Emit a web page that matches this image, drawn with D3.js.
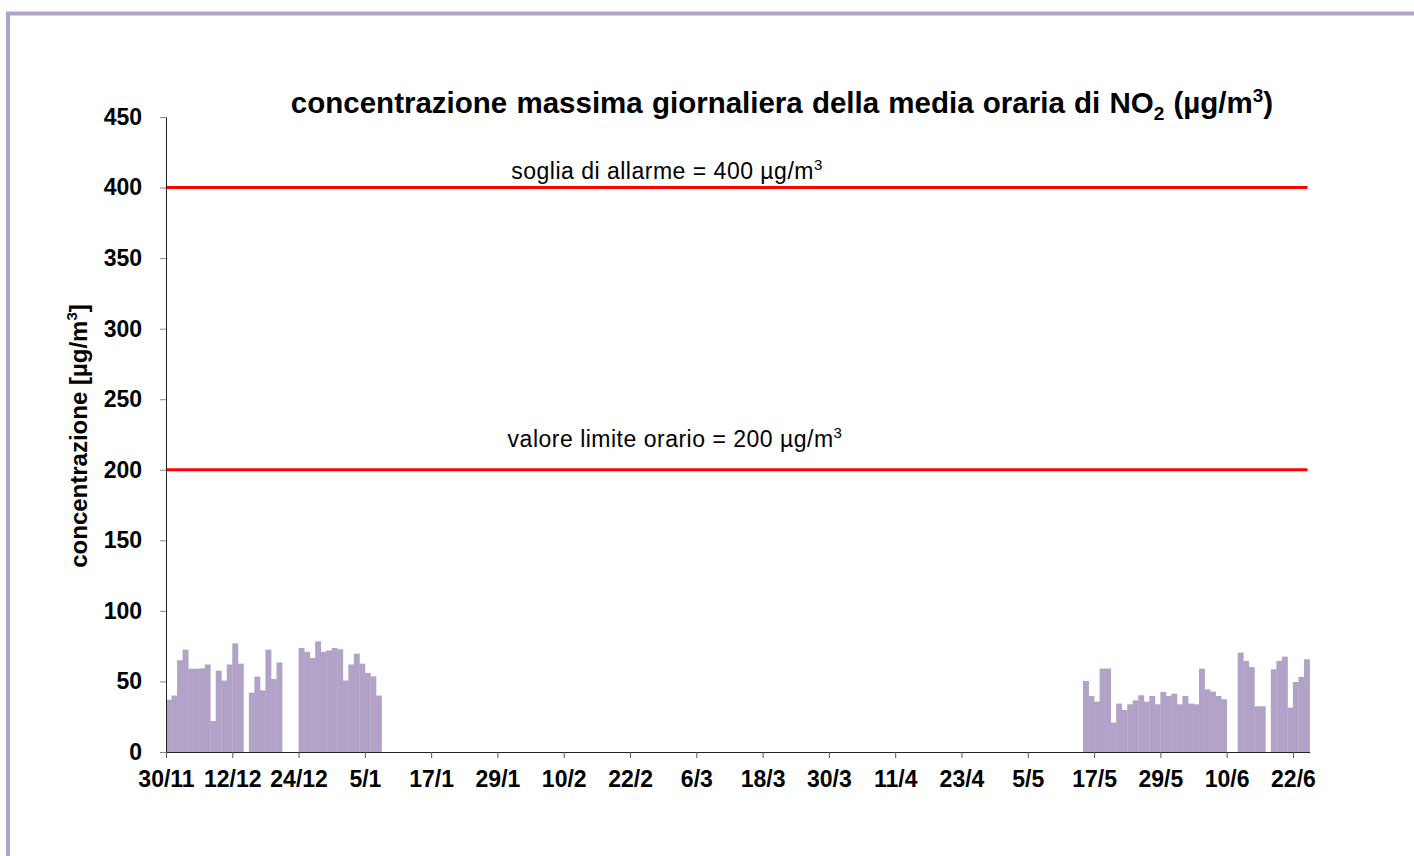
<!DOCTYPE html>
<html>
<head>
<meta charset="utf-8">
<script src="https://cdn.jsdelivr.net/npm/d3@7"></script>
<style>
  body { margin: 0; background: #fff; }
  svg { display: block; font-family: "Liberation Sans", Arial, sans-serif; }
</style>
</head>
<body>
<script>
// valori massimi giornalieri NO2, primo periodo (dal 30/11)
var winterStart = "2010-11-30";
var winterValues = [37, 40, 65, 72.5, 59, 59, 59.3, 62, 22, 57.6, 50.6, 62, 77, 62.6, null,
  42, 53.4, 43.7, 72.5, 51.7, 63.5, null, null, null, 73.7, 71, 66.6, 78.4, 71, 72, 73.7,
  72.8, 50.6, 62, 69.7, 62.6, 56, 53.6, 40];
// secondo periodo (dal 15/5)
var springStart = "2011-05-15";
var springValues = [50.3, 39.7, 35.7, 59.1, 59.1, 20.8, 34.3, 29.8, 33.8, 36.6, 40.2, 35.7,
  39.7, 33.8, 42.5, 39.7, 41.3, 33.8, 39.7, 34.3, 33.8, 59.1, 44.4, 42.8, 39.7, 37.3, null,
  null, 70.4, 64.5, 60.2, 32.4, 32.4, null, 58.6, 64.5, 67.6, 31.4, 49.6, 53.2, 65.7];

var yTicks = [0, 50, 100, 150, 200, 250, 300, 350, 400, 450];
var thresholds = [400, 200];
var thresholdLabels = ["soglia di allarme = 400 µg/m", "valore limite orario = 200 µg/m"];

var W = 1414, H = 856;
var parse = d3.utcParse("%Y-%m-%d");

// costruisco le righe giorno per giorno
function rows(start, values) {
  var d0 = parse(start);
  return values.map(function(v, i) { return { date: d3.utcDay.offset(d0, i), value: v }; })
    .filter(function(d) { return d.value != null; });
}
var data = rows(winterStart, winterValues).concat(rows(springStart, springValues));

var svg = d3.select("body").append("svg").attr("width", W).attr("height", H);

// cornice lilla
svg.append("path")
  .attr("d", "M8,856 L8,13.5 L1414,13.5")
  .attr("fill", "none").attr("stroke", "#b3a2c7").attr("stroke-width", 4);

var x = d3.scaleUtc()
  .domain([parse("2010-11-30"), parse("2011-06-25")])
  .range([166, 1309.5]);
var y = d3.scaleLinear().domain([0, 450]).range([752, 117]);

// barre
svg.append("g").selectAll("rect")
  .data(data)
  .enter().append("rect")
  .attr("x", function(d) { return x(d.date); })
  .attr("width", function(d) { return x(d3.utcDay.offset(d.date, 1)) - x(d.date) + 0.4; })
  .attr("y", function(d) { return y(d.value); })
  .attr("height", function(d) { return y(0) - y(d.value); })
  .attr("fill", "#b3a2c7");

// soglie
svg.append("g").selectAll("line")
  .data(thresholds)
  .enter().append("line")
  .attr("x1", x.range()[0]).attr("x2", x.range()[1] - 2)
  .attr("y1", function(d) { return y(d); }).attr("y2", function(d) { return y(d); })
  .attr("stroke", "#ff0000").attr("stroke-width", 3);

var labelPos = [{ cx: 667, dy: -9 }, { cx: 675, dy: -23 }];
thresholds.forEach(function(t, i) {
  var tx = svg.append("text")
    .attr("x", labelPos[i].cx).attr("y", y(t) + labelPos[i].dy)
    .attr("text-anchor", "middle").attr("font-size", 23).attr("letter-spacing", 0.5)
    .attr("fill", "#000");
  tx.append("tspan").text(thresholdLabels[i]);
  tx.append("tspan").attr("font-size", 15).attr("dy", -9).text("3");
});

// asse y
var yAxis = svg.append("g").attr("transform", "translate(166,0)")
  .call(d3.axisLeft(y).tickValues(yTicks).tickSize(6).tickPadding(18));
yAxis.select(".domain").attr("stroke", "#222");
yAxis.selectAll(".tick line").attr("stroke", "#888");
yAxis.selectAll("text").attr("font-size", 23).attr("font-weight", "bold").attr("fill", "#000")
  .attr("font-family", "Liberation Sans, Arial, sans-serif");

// asse x, un tick ogni 12 giorni
var xTicks = d3.utcDay.range(parse("2010-11-30"), parse("2011-06-24"), 12);
var xAxis = svg.append("g").attr("transform", "translate(0,752)")
  .call(d3.axisBottom(x).tickValues(xTicks).tickFormat(d3.utcFormat("%-d/%-m"))
    .tickSize(6).tickPadding(13).tickSizeOuter(0));
xAxis.select(".domain").attr("stroke", "#222");
xAxis.selectAll(".tick line").attr("stroke", "#555");
xAxis.selectAll("text").attr("font-size", 23).attr("font-weight", "bold").attr("fill", "#000")
  .attr("font-family", "Liberation Sans, Arial, sans-serif");

// titolo
var title = svg.append("text")
  .attr("x", 782).attr("y", 113)
  .attr("text-anchor", "middle").attr("font-size", 29.5).attr("word-spacing", 1)
  .attr("font-weight", "bold");
title.append("tspan").text("concentrazione massima giornaliera della media oraria di NO");
title.append("tspan").attr("font-size", 19).attr("dy", 7).text("2");
title.append("tspan").attr("dy", -7).text(" (µg/m");
title.append("tspan").attr("font-size", 19).attr("dy", -11).text("3");
title.append("tspan").attr("dy", 11).text(")");

// etichetta asse y
var yl = svg.append("text")
  .attr("transform", "translate(87,436) rotate(-90)")
  .attr("text-anchor", "middle").attr("font-size", 24).attr("font-weight", "bold");
yl.append("tspan").text("concentrazione [µg/m");
yl.append("tspan").attr("font-size", 15).attr("dy", -10).text("3");
yl.append("tspan").attr("dy", 10).text("]");
</script>
</body>
</html>
